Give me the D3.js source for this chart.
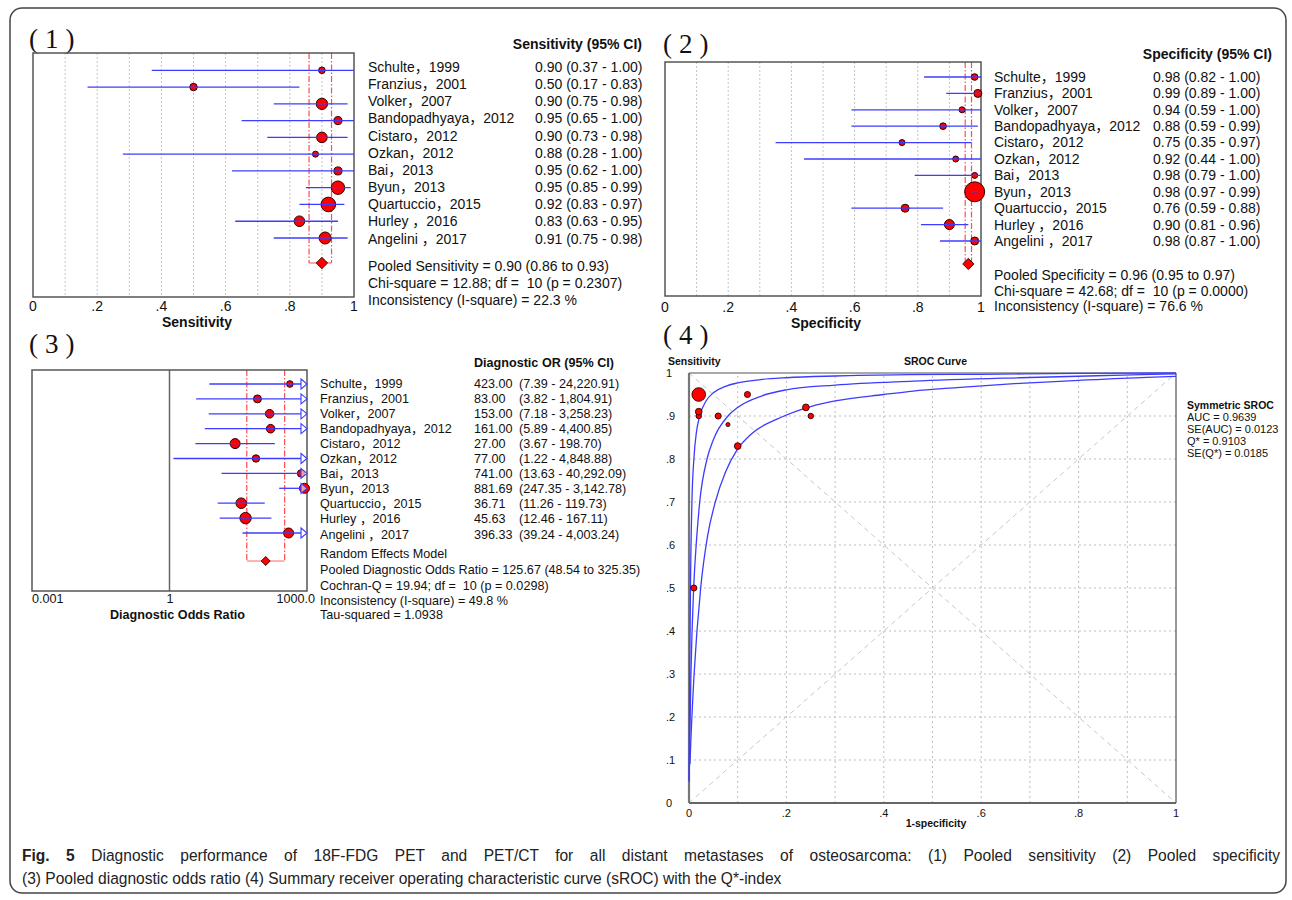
<!DOCTYPE html>
<html>
<head>
<meta charset="utf-8">
<script src="https://cdn.jsdelivr.net/npm/d3@7"></script>
<style>
  body { margin: 0; background: #fff; }
  svg text { font-family: "Liberation Sans", Arial, "Noto Sans CJK SC", sans-serif; fill: #111; white-space: pre; }
</style>
</head>
<body>
<script>
// study list, same order in every panel
const studies = ["Schulte，1999", "Franzius，2001", "Volker，2007", "Bandopadhyaya，2012", "Cistaro，2012",
  "Ozkan，2012", "Bai，2013", "Byun，2013", "Quartuccio，2015", "Hurley ，2016", "Angelini ，2017"];

const sens   = [0.90, 0.50, 0.90, 0.95, 0.90, 0.88, 0.95, 0.95, 0.92, 0.83, 0.91];
const sensLo = [0.37, 0.17, 0.75, 0.65, 0.73, 0.28, 0.62, 0.85, 0.83, 0.63, 0.75];
const sensHi = [1.00, 0.83, 0.98, 1.00, 0.98, 1.00, 1.00, 0.99, 0.97, 0.95, 0.98];
const sensW  = [3.8, 4.8, 11.1, 5.6, 9.7, 3.1, 5.6, 15.6, 18.4, 9.7, 12.5];
const sensPooled = [0.90, 0.86, 0.93];
const sensHet = [12.88, 10, 0.2307, 22.3];

const spec   = [0.98, 0.99, 0.94, 0.88, 0.75, 0.92, 0.98, 0.98, 0.76, 0.90, 0.98];
const specLo = [0.82, 0.89, 0.59, 0.59, 0.35, 0.44, 0.79, 0.97, 0.59, 0.81, 0.87];
const specHi = [1.00, 1.00, 1.00, 0.99, 0.97, 1.00, 1.00, 0.99, 0.88, 0.96, 1.00];
const specW  = [4.8, 6.9, 3.9, 4.8, 3.9, 3.9, 3.9, 43.3, 6.9, 10.8, 6.9];
const specPooled = [0.96, 0.95, 0.97];
const specHet = [42.68, 10, 0.0000, 76.6];

const dor   = [423.00, 83.00, 153.00, 161.00, 27.00, 77.00, 741.00, 881.69, 36.71, 45.63, 396.33];
const dorLo = [7.39, 3.82, 7.18, 5.89, 3.67, 1.22, 13.63, 247.35, 11.26, 12.46, 39.24];
const dorHi = [24220.91, 1804.91, 3258.23, 4400.85, 198.70, 4848.88, 40292.09, 3142.78, 119.73, 167.11, 4003.24];
const dorW  = [4.8, 7.0, 8.1, 8.1, 11.0, 6.0, 6.0, 11.0, 12.3, 14.3, 11.0];
const dorPooled = [125.67, 48.54, 325.35];
const dorHet = [19.94, 10, 0.0298, 49.8, 1.0938];

const srocW = [5.5, 6.8, 6.8, 6.8, 5.5, 3.0, 6.8, 33.9, 8.3, 8.3, 8.3];
const srocStats = [0.9639, 0.0123, 0.9103, 0.0185];
// curve points: [1-specificity, sensitivity]
const srocInner = [[0.0002, 0.05], [0.0015, 0.30], [0.003, 0.50], [0.006, 0.70], [0.01, 0.80], [0.015, 0.86],
  [0.022, 0.90], [0.035, 0.935], [0.05, 0.954], [0.075, 0.969], [0.1, 0.977], [0.15, 0.985], [0.2, 0.989],
  [0.3, 0.993], [0.45, 0.996], [0.6, 0.997], [0.8, 0.999], [1, 1]];
const srocMid = [[0.0005, 0.05], [0.001, 0.10], [0.004, 0.30], [0.0096, 0.50], [0.016, 0.62], [0.022, 0.70],
  [0.037, 0.80], [0.05, 0.845], [0.08, 0.90], [0.1, 0.92], [0.15, 0.947], [0.2, 0.961], [0.3, 0.972],
  [0.46, 0.981], [0.68, 0.989], [0.89, 0.995], [1, 0.998]];
const srocOuter = [[0.002, 0.09], [0.004, 0.15], [0.0105, 0.30], [0.024, 0.50], [0.038, 0.62], [0.054, 0.70],
  [0.075, 0.77], [0.098, 0.82], [0.13, 0.86], [0.187, 0.896], [0.25, 0.922], [0.3, 0.935], [0.4, 0.95],
  [0.46, 0.958], [0.55, 0.966], [0.68, 0.976], [0.8, 0.983], [0.94, 0.99], [1, 0.992]];

const propTicks = [0, 0.2, 0.4, 0.6, 0.8, 1];
const propGrid = [0.1, 0.2, 0.3, 0.4, 0.5, 0.6, 0.7, 0.8, 0.9];
const dorTicks = [0.001, 1, 1000];
const srocTicks = [0, 0.1, 0.2, 0.3, 0.4, 0.5, 0.6, 0.7, 0.8, 0.9, 1];

const captionLines = [
  ["Fig. 5", " Diagnostic performance of 18F-FDG PET and PET/CT for all distant metastases of osteosarcoma: (1) Pooled sensitivity (2) Pooled specificity"],
  ["", "(3) Pooled diagnostic odds ratio (4) Summary receiver operating characteristic curve (sROC) with the Q*-index"]
];

const BLUE = "#3c3cff";
const RED = "#ff0000";
const f2 = d3.format(".2f");
const f4 = d3.format(".4f");
const fc = d3.format(",.2f");
const propFmt = d => d === 0 ? "0" : d === 1 ? "1" : d3.format(".1f")(d).replace("0.", ".");

const svg = d3.select("body").append("svg")
  .attr("width", 1292)
  .attr("height", 900);

svg.append("rect")
  .attr("x", 10).attr("y", 8)
  .attr("width", 1276).attr("height", 885)
  .attr("rx", 12)
  .attr("fill", "none")
  .attr("stroke", "#444")
  .attr("stroke-width", 1.5);

function panelLabel(txt, x, y) {
  svg.append("text")
    .attr("x", x).attr("y", y)
    .style("font-family", "'Liberation Serif', 'DejaVu Serif', serif")
    .style("font-size", "27px")
    .style("letter-spacing", "7px")
    .text(txt);
}

function drawForest(p) {
  const g = svg.append("g");
  const [bx0, by0, bx1, by1] = p.box;

  if (p.grid) {
    g.selectAll(".grid")
      .data(p.grid)
      .enter()
      .append("line")
      .attr("x1", d => p.x(d)).attr("x2", d => p.x(d))
      .attr("y1", by0).attr("y2", by1)
      .attr("stroke", "#c4c4c4")
      .attr("stroke-dasharray", "2,2");
  }
  if (p.nullValue) {
    g.append("line")
      .attr("x1", p.x(p.nullValue)).attr("x2", p.x(p.nullValue))
      .attr("y1", by0).attr("y2", by1)
      .attr("stroke", "#666").attr("stroke-width", 1.5);
  }

  // pooled estimate bracket
  const dy = p.row(p.diamondRow);
  g.selectAll(".pool")
    .data([p.pooled[1], p.pooled[2]])
    .enter()
    .append("line")
    .attr("x1", d => p.x(d)).attr("x2", d => p.x(d))
    .attr("y1", by0).attr("y2", dy)
    .attr("stroke", "#ff4d4d")
    .attr("stroke-width", 1.2)
    .attr("stroke-dasharray", "6,2,1.5,2");
  g.append("line")
    .attr("x1", p.x(p.pooled[1])).attr("x2", p.x(p.pooled[2]))
    .attr("y1", dy).attr("y2", dy)
    .attr("stroke", "#ff6b6b").attr("stroke-width", 1.2);

  g.append("rect")
    .attr("x", bx0).attr("y", by0)
    .attr("width", bx1 - bx0).attr("height", by1 - by0)
    .attr("fill", "none")
    .attr("stroke", "#555")
    .attr("stroke-width", 1.5);

  const r = d3.scaleSqrt().domain([0, d3.max(p.w)]).range([0, p.maxR]);
  g.selectAll(".pt")
    .data(p.est)
    .enter()
    .append("circle")
    .attr("cx", d => p.x(d))
    .attr("cy", (d, i) => p.row(i))
    .attr("r", (d, i) => r(p.w[i]))
    .attr("fill", RED)
    .attr("stroke", "#2a0000")
    .attr("stroke-width", 1);

  p.est.forEach((d, i) => {
    const y = p.row(i);
    const over = p.x(p.hi[i]) > bx1 + 0.5;
    const xEnd = over && p.arrow ? bx1 - 6 : Math.min(p.x(p.hi[i]), bx1);
    g.append("line")
      .attr("x1", Math.max(p.x(p.lo[i]), bx0)).attr("x2", xEnd)
      .attr("y1", y).attr("y2", y)
      .attr("stroke", BLUE).attr("stroke-width", 1.3);
    if (over && p.arrow) {
      g.append("path")
        .attr("d", `M${bx1 - 6},${y - 5}L${bx1},${y}L${bx1 - 6},${y + 5}Z`)
        .attr("fill", "#fff").attr("fill-opacity", 0.6)
        .attr("stroke", BLUE).attr("stroke-width", 1.1);
    }
  });

  const cx = p.x(p.pooled[0]);
  g.append("path")
    .attr("d", `M${cx - p.dia},${dy}L${cx},${dy - p.dia}L${cx + p.dia},${dy}L${cx},${dy + p.dia}Z`)
    .attr("fill", RED).attr("stroke", "#2a0000").attr("stroke-width", 0.9);

  // axis
  g.selectAll(".tick")
    .data(p.ticks)
    .enter()
    .append("text")
    .attr("x", (d, i) => p.tickX ? p.tickX(d, i) : p.x(d))
    .attr("y", p.tickY)
    .attr("text-anchor", (d, i) => p.tickAnchor ? p.tickAnchor(d, i) : "middle")
    .style("font-size", p.fs + "px")
    .text(p.tickFmt);
  g.append("text")
    .attr("x", p.labelX).attr("y", p.labelY)
    .attr("text-anchor", "middle")
    .style("font-size", p.fs + "px")
    .style("font-weight", "bold")
    .text(p.label);

  // study table
  const t = svg.append("g").style("font-size", p.fs + "px");
  t.append("text")
    .attr("x", p.headX).attr("y", p.headY)
    .attr("text-anchor", p.headAnchor)
    .style("font-weight", "bold")
    .text(p.head);
  t.selectAll(".nm")
    .data(studies)
    .enter()
    .append("text")
    .attr("x", p.nameX)
    .attr("y", (d, i) => p.textRow(i))
    .text(d => d);
  p.valueCols.forEach(col => {
    t.selectAll(null)
      .data(p.est)
      .enter()
      .append("text")
      .attr("x", col.x)
      .attr("y", (d, i) => p.textRow(i))
      .text((d, i) => col.fmt(d, i));
  });
  t.selectAll(".sum")
    .data(p.summary)
    .enter()
    .append("text")
    .attr("x", p.nameX)
    .attr("y", (d, i) => p.summaryY[i])
    .text(d => d);
}

// (1) Sensitivity
panelLabel("(1)", 29, 48);
drawForest({
  box: [33, 53, 354, 297],
  x: d3.scaleLinear().domain([0, 1]).range([33, 354]),
  row: d3.scaleLinear().domain([0, 10]).range([70.3, 238]),
  diamondRow: 11.49, dia: 5.7, maxR: 7.3,
  est: sens, lo: sensLo, hi: sensHi, w: sensW, pooled: sensPooled,
  grid: propGrid, ticks: propTicks, tickFmt: propFmt, tickY: 311,
  label: "Sensitivity", labelX: 197, labelY: 327, fs: 14,
  head: "Sensitivity (95% CI)", headX: 642, headY: 49, headAnchor: "end",
  nameX: 368,
  textRow: d3.scaleLinear().domain([0, 10]).range([72, 243.5]),
  valueCols: [{ x: 535, fmt: (d, i) => `${f2(d)} (${f2(sensLo[i])} - ${f2(sensHi[i])})` }],
  summary: [
    `Pooled Sensitivity = ${f2(sensPooled[0])} (${f2(sensPooled[1])} to ${f2(sensPooled[2])})`,
    `Chi-square = ${f2(sensHet[0])}; df =  ${sensHet[1]} (p = ${f4(sensHet[2])})`,
    `Inconsistency (I-square) = ${sensHet[3]} %`
  ],
  summaryY: [271, 288.3, 305]
});

// (2) Specificity
panelLabel("(2)", 663, 53);
drawForest({
  box: [665, 62, 981, 296],
  x: d3.scaleLinear().domain([0, 1]).range([665, 981]),
  row: d3.scaleLinear().domain([0, 10]).range([77, 241]),
  diamondRow: 11.4, dia: 5.6, maxR: 10,
  est: spec, lo: specLo, hi: specHi, w: specW, pooled: specPooled,
  grid: propGrid, ticks: propTicks, tickFmt: propFmt, tickY: 311.7,
  label: "Specificity", labelX: 826, labelY: 327.7, fs: 14,
  head: "Specificity (95% CI)", headX: 1272, headY: 59, headAnchor: "end",
  nameX: 994,
  textRow: d3.scaleLinear().domain([0, 10]).range([81.7, 246]),
  valueCols: [{ x: 1153, fmt: (d, i) => `${f2(d)} (${f2(specLo[i])} - ${f2(specHi[i])})` }],
  summary: [
    `Pooled Specificity = ${f2(specPooled[0])} (${f2(specPooled[1])} to ${f2(specPooled[2])})`,
    `Chi-square = ${f2(specHet[0])}; df =  ${specHet[1]} (p = ${f4(specHet[2])})`,
    `Inconsistency (I-square) = ${specHet[3]} %`
  ],
  summaryY: [280, 295.7, 311]
});

// (3) Diagnostic odds ratio
panelLabel("(3)", 29, 353);
drawForest({
  box: [32, 370, 307, 591],
  x: d3.scaleLog().domain([0.001, 1000]).range([32, 307]),
  row: d3.scaleLinear().domain([0, 10]).range([384, 533]),
  diamondRow: 11.88, dia: 4.5, maxR: 5.7, arrow: true, nullValue: 1,
  est: dor, lo: dorLo, hi: dorHi, w: dorW, pooled: dorPooled,
  ticks: dorTicks,
  tickFmt: d => d === 1000 ? "1000.0" : String(d),
  tickX: (d, i) => i === 2 ? 315 : (i === 0 ? 32 : 170),
  tickAnchor: (d, i) => i === 0 ? "start" : (i === 2 ? "end" : "middle"),
  tickY: 602.5,
  label: "Diagnostic Odds Ratio", labelX: 177.5, labelY: 618.5, fs: 12.6,
  head: "Diagnostic OR (95% CI)", headX: 474, headY: 366.8, headAnchor: "start",
  nameX: 320,
  textRow: d3.scaleLinear().domain([0, 10]).range([387.8, 538.5]),
  valueCols: [
    { x: 474, fmt: d => f2(d) },
    { x: 519, fmt: (d, i) => `(${fc(dorLo[i])} - ${fc(dorHi[i])})` }
  ],
  summary: [
    "Random Effects Model",
    `Pooled Diagnostic Odds Ratio = ${f2(dorPooled[0])} (${f2(dorPooled[1])} to ${f2(dorPooled[2])})`,
    `Cochran-Q = ${f2(dorHet[0])}; df =  ${dorHet[1]} (p = ${f4(dorHet[2])})`,
    `Inconsistency (I-square) = ${dorHet[3]} %`,
    `Tau-squared = ${f4(dorHet[4])}`
  ],
  summaryY: [557.8, 573.8, 589.5, 605.2, 619.2]
});

// (4) SROC
panelLabel("(4)", 663, 344);
{
  const g = svg.append("g");
  const x = d3.scaleLinear().domain([0, 1]).range([689, 1176]);
  const y = d3.scaleLinear().domain([0, 1]).range([803, 373]);
  const inner = srocTicks.slice(1, -1);

  g.selectAll(".vg").data(inner).enter().append("line")
    .attr("x1", d => x(d)).attr("x2", d => x(d)).attr("y1", y(0)).attr("y2", y(1))
    .attr("stroke", "#bdbdbd").attr("stroke-dasharray", "2,3");
  g.selectAll(".hg").data(inner).enter().append("line")
    .attr("x1", x(0)).attr("x2", x(1)).attr("y1", d => y(d)).attr("y2", d => y(d))
    .attr("stroke", "#bdbdbd").attr("stroke-dasharray", "2,3");

  g.append("line").attr("x1", x(0)).attr("y1", y(0)).attr("x2", x(1)).attr("y2", y(1))
    .attr("stroke", "#c8c8c8").attr("stroke-dasharray", "5,4");
  g.append("line").attr("x1", x(0)).attr("y1", y(1)).attr("x2", x(1)).attr("y2", y(0))
    .attr("stroke", "#c8c8c8").attr("stroke-dasharray", "5,4");

  g.append("line").attr("x1", x(0)).attr("x2", x(1)).attr("y1", y(1)).attr("y2", y(1))
    .attr("stroke", "#555").attr("stroke-width", 1.2);
  g.append("line").attr("x1", x(1)).attr("x2", x(1)).attr("y1", y(1)).attr("y2", y(0))
    .attr("stroke", "#555").attr("stroke-width", 1.2);
  g.append("line").attr("x1", x(0)).attr("x2", x(1)).attr("y1", y(0)).attr("y2", y(0))
    .attr("stroke", "#666").attr("stroke-width", 2);
  g.append("line").attr("x1", x(0)).attr("x2", x(0)).attr("y1", y(1)).attr("y2", y(0))
    .attr("stroke", "#777").attr("stroke-width", 2.2);

  const line = d3.line().x(d => x(d[0])).y(d => y(d[1])).curve(d3.curveMonotoneX);
  [srocInner, srocMid, srocOuter].forEach(c => {
    g.append("path").attr("d", line(c))
      .attr("fill", "none").attr("stroke", BLUE).attr("stroke-width", 1.3);
  });

  const r = d3.scaleSqrt().domain([0, d3.max(srocW)]).range([0, 6.8]);
  g.selectAll(".pt").data(sens).enter().append("circle")
    .attr("cx", (d, i) => x(1 - spec[i]))
    .attr("cy", d => y(d))
    .attr("r", (d, i) => r(srocW[i]))
    .attr("fill", RED).attr("stroke", "#2a0000").attr("stroke-width", 0.9);

  g.selectAll(".yt").data(srocTicks).enter().append("text")
    .attr("x", 666).attr("y", d => y(d) + 4)
    .style("font-size", "11px")
    .text(propFmt);
  g.selectAll(".xt").data(propTicks).enter().append("text")
    .attr("x", d => x(d)).attr("y", 816.5)
    .attr("text-anchor", "middle")
    .style("font-size", "11px")
    .text(propFmt);

  g.append("text").attr("x", 668).attr("y", 364.5)
    .style("font-size", "10.5px").style("font-weight", "bold").text("Sensitivity");
  g.append("text").attr("x", 935.5).attr("y", 364.5).attr("text-anchor", "middle")
    .style("font-size", "10.5px").style("font-weight", "bold").text("SROC Curve");
  g.append("text").attr("x", 936).attr("y", 827).attr("text-anchor", "middle")
    .style("font-size", "10.5px").style("font-weight", "bold").text("1-specificity");

  const legend = [
    `AUC = ${f4(srocStats[0])}`,
    `SE(AUC) = ${f4(srocStats[1])}`,
    `Q* = ${f4(srocStats[2])}`,
    `SE(Q*) = ${f4(srocStats[3])}`
  ];
  g.append("text").attr("x", 1187).attr("y", 408.5)
    .style("font-size", "10.5px").style("font-weight", "bold").text("Symmetric SROC");
  g.selectAll(".lg").data(legend).enter().append("text")
    .attr("x", 1187).attr("y", (d, i) => 420.5 + i * 12.2)
    .style("font-size", "11px")
    .text(d => d);
}

// caption: condensed look via horizontal squeeze, first line justified
const squeeze = 0.915;
const cap = svg.append("g")
  .attr("transform", `translate(22,0) scale(${squeeze},1)`)
  .style("font-size", "17px");
captionLines.forEach((ln, k) => {
  const t = cap.append("text")
    .attr("x", 0).attr("y", 861 + k * 23)
    .style("fill", "#222");
  if (ln[0]) t.append("tspan").style("font-weight", "bold").text(ln[0]);
  t.append("tspan").text(ln[1]);
  if (k === 0) {
    const target = 1258 / squeeze;
    const natural = t.node().getComputedTextLength();
    const gaps = (ln[0] + ln[1]).split(" ").length - 1;
    t.style("word-spacing", Math.max(0, (target - natural) / gaps) + "px");
  }
});
</script>
</body>
</html>
